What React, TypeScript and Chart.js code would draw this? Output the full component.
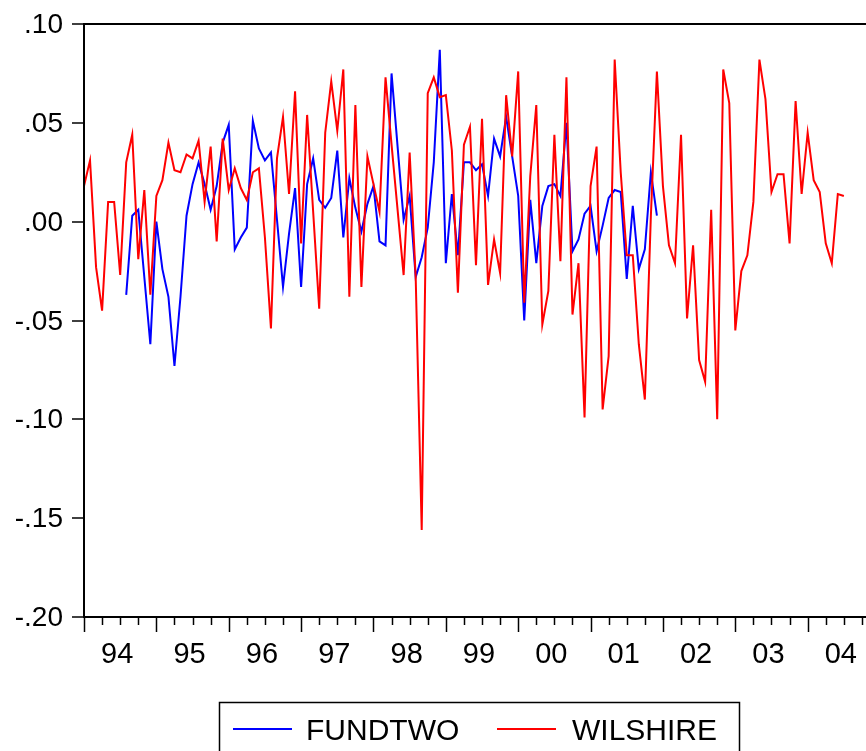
import { useEffect, useRef } from 'react';
import { Chart, registerables } from 'chart.js';

Chart.register(...registerables);

// ---- data ----
const YEAR_LABELS = ['94', '95', '96', '97', '98', '99', '00', '01', '02', '03', '04'];
const MONTHS_TOTAL = 131; // Jan 1994 .. Dec 2004 (index 0..131)

const Y_TICKS = [0.1, 0.05, 0.0, -0.05, -0.1, -0.15, -0.2];
const Y_TICK_LABELS = ['.10', '.05', '.00', '-.05', '-.10', '-.15', '-.20'];

// monthly returns, starting Jan 1994
const WILSHIRE = [
  0.018, 0.031, -0.023, -0.045, 0.010, 0.010, -0.027, 0.030, 0.044, -0.019, 0.016, -0.037,
  0.013, 0.021, 0.040, 0.026, 0.025, 0.034, 0.032, 0.041, 0.010, 0.038, -0.010, 0.042,
  0.016, 0.027, 0.017, 0.011, 0.025, 0.027, -0.008, -0.054, 0.032, 0.053, 0.014, 0.066,
  -0.011, 0.054, 0.005, -0.044, 0.045, 0.071, 0.046, 0.077, -0.038, 0.059, -0.033, 0.033,
  0.019, 0.005, 0.073, 0.039, 0.006, -0.027, 0.035, -0.028, -0.156, 0.065, 0.073, 0.063,
  0.064, 0.036, -0.036, 0.039, 0.048, -0.022, 0.052, -0.032, -0.009, -0.026, 0.064, 0.033,
  0.076, -0.041, 0.023, 0.059, -0.052, -0.035, 0.044, -0.020, 0.073, -0.047, -0.021, -0.099,
  0.018, 0.038, -0.095, -0.068, 0.082, 0.025, -0.017, -0.017, -0.062, -0.090, 0.003, 0.076,
  0.018, -0.012, -0.021, 0.044, -0.049, -0.012, -0.070, -0.081, 0.006, -0.100, 0.077, 0.060,
  -0.055, -0.025, -0.017, 0.010, 0.082, 0.062, 0.015, 0.024, 0.024, -0.011, 0.061, 0.014,
  0.045, 0.021, 0.015, -0.011, -0.021, 0.014, 0.013,
];

// FUNDTWO starts Aug 1994 (month index 7)
const FUNDTWO_START = 7;
const FUNDTWO = [
  -0.037, 0.003, 0.006, -0.028, -0.062,
  0.000, -0.024, -0.038, -0.073, -0.038, 0.003, 0.019, 0.030, 0.019, 0.006, 0.018, 0.040,
  0.049, -0.014, -0.008, -0.003, 0.051, 0.037, 0.031, 0.035, 0.001, -0.033, -0.006, 0.017,
  -0.033, 0.019, 0.032, 0.011, 0.007, 0.012, 0.036, -0.008, 0.022, 0.007, -0.005, 0.009,
  0.018, -0.010, -0.012, 0.075, 0.038, 0.001, 0.013, -0.028, -0.018, -0.003, 0.030, 0.087,
  -0.021, 0.014, -0.017, 0.030, 0.030, 0.026, 0.029, 0.013, 0.042, 0.033, 0.053, 0.033,
  0.013, -0.050, 0.011, -0.021, 0.008, 0.018, 0.019, 0.013, 0.050, -0.015, -0.009, 0.004,
  0.008, -0.015, -0.002, 0.012, 0.016, 0.015, -0.029, 0.008, -0.024, -0.014, 0.025, 0.003,
];

const SERIES_NAMES = ['FUNDTWO', 'WILSHIRE'];
const SERIES_COLORS = ['#0000ff', '#ff0000'];

// ---- layout ----
const CANVAS_W = 900;
const CANVAS_H = 751;
const PLOT_L = 84;
const PLOT_T = 24;
const PLOT_R = 874;
const PLOT_B = 617;
const FONT = '"Liberation Sans", Arial, sans-serif';

const eviewsPlugin = {
  id: 'eviewsAxes',
  afterDatasetsDraw(chart: any) {
    const ctx = chart.ctx as CanvasRenderingContext2D;
    const xs = chart.scales.x;
    const ys = chart.scales.y;
    const { left, top, right, bottom } = chart.chartArea;
    ctx.save();
    ctx.strokeStyle = '#000';
    ctx.fillStyle = '#000';
    ctx.lineWidth = 2;
    ctx.strokeRect(left, top, right - left, bottom - top);

    // y ticks
    ctx.lineWidth = 1.5;
    ctx.font = `28px ${FONT}`;
    ctx.textAlign = 'right';
    ctx.textBaseline = 'alphabetic';
    Y_TICKS.forEach((v, i) => {
      const y = Math.round(ys.getPixelForValue(v));
      ctx.beginPath();
      ctx.moveTo(left - 12, y);
      ctx.lineTo(left, y);
      ctx.stroke();
      ctx.fillText(Y_TICK_LABELS[i], left - 21, y + 9);
    });

    // x ticks
    for (let m = 0; m <= MONTHS_TOTAL; m += 3) {
      const x = Math.round(xs.getPixelForValue(m)) + 0.5;
      const len = m % 12 === 0 ? 15 : 8;
      ctx.beginPath();
      ctx.moveTo(x, bottom);
      ctx.lineTo(x, bottom + len);
      ctx.stroke();
    }
    ctx.font = `29px ${FONT}`;
    ctx.textAlign = 'center';
    YEAR_LABELS.forEach((lab, k) => {
      const x = xs.getPixelForValue(k * 12 + 5.5);
      ctx.fillText(lab, x, 663);
    });

    // legend
    ctx.lineWidth = 1.5;
    ctx.strokeRect(219.5, 702.5, 520, 80);
    const items = [
      { x: 233, tx: 306 },
      { x: 497, tx: 572 },
    ];
    ctx.font = `30px ${FONT}`;
    ctx.textAlign = 'left';
    items.forEach((it, i) => {
      ctx.strokeStyle = SERIES_COLORS[i];
      ctx.lineWidth = 2;
      ctx.beginPath();
      ctx.moveTo(it.x, 729);
      ctx.lineTo(it.x + 59, 729);
      ctx.stroke();
      ctx.fillStyle = '#000';
      ctx.fillText(SERIES_NAMES[i], it.tx, 740);
    });
    ctx.restore();
  },
};

export default function App() {
  const ref = useRef<HTMLCanvasElement | null>(null);

  useEffect(() => {
    if (!ref.current) return;
    const fundData = FUNDTWO.map((v, i) => ({ x: FUNDTWO_START + i, y: v }));
    const wilData = WILSHIRE.map((v, i) => ({ x: i, y: v }));
    const chart = new Chart(ref.current, {
      type: 'line',
      data: {
        datasets: [
          {
            label: SERIES_NAMES[0],
            data: fundData,
            borderColor: SERIES_COLORS[0],
            borderWidth: 2,
            pointRadius: 0,
            tension: 0,
            fill: false,
            order: 2,
          },
          {
            label: SERIES_NAMES[1],
            data: wilData,
            borderColor: SERIES_COLORS[1],
            borderWidth: 2,
            pointRadius: 0,
            tension: 0,
            fill: false,
            order: 1,
          },
        ],
      },
      options: {
        responsive: false,
        animation: false,
        devicePixelRatio: 1,
        layout: {
          padding: {
            left: PLOT_L,
            top: PLOT_T,
            right: CANVAS_W - PLOT_R,
            bottom: CANVAS_H - PLOT_B,
          },
        },
        scales: {
          x: { type: 'linear', min: 0, max: MONTHS_TOTAL, display: false },
          y: { type: 'linear', min: -0.2, max: 0.1, display: false },
        },
        plugins: {
          legend: { display: false },
          tooltip: { enabled: false },
        },
      },
      plugins: [eviewsPlugin],
    });
    return () => chart.destroy();
  }, []);

  return (
    <div
      style={{
        position: 'fixed',
        left: 0,
        top: 0,
        width: 866,
        height: 751,
        overflow: 'hidden',
        background: '#fff',
      }}
    >
      <canvas ref={ref} width={CANVAS_W} height={CANVAS_H} style={{ display: 'block' }} />
    </div>
  );
}
